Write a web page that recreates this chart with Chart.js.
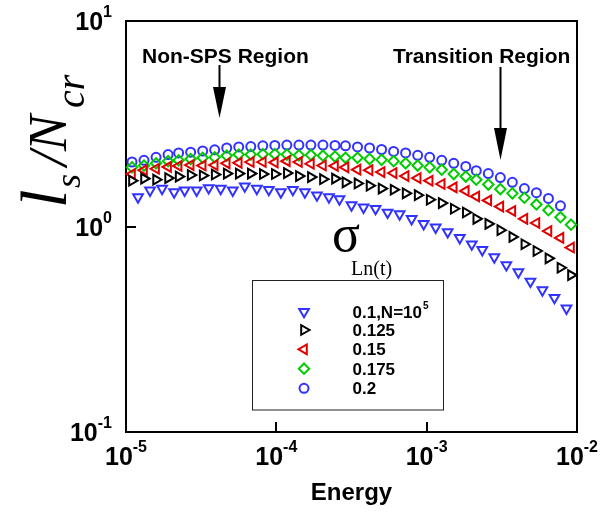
<!DOCTYPE html>
<html>
<head>
<meta charset="utf-8">
<script src="https://cdn.jsdelivr.net/npm/chart.js@4.4.1/dist/chart.umd.min.js"></script>
<style>
  html, body { margin: 0; padding: 0; background: #fff; }
  canvas { display: block; }
</style>
</head>
<body>
<canvas id="chart" width="614" height="513"></canvas>
<script>
// energy grid (circles, diamonds, left/right triangles)
const energy = [
  1.096e-5, 1.318e-5, 1.585e-5, 1.905e-5, 2.239e-5, 2.692e-5, 3.236e-5, 3.890e-5, 4.677e-5, 5.623e-5,
  6.761e-5, 8.128e-5, 9.772e-5, 1.175e-4, 1.413e-4, 1.698e-4, 2.042e-4, 2.455e-4, 2.884e-4, 3.467e-4,
  4.169e-4, 5.012e-4, 6.026e-4, 7.244e-4, 8.710e-4, 1.047e-3, 1.259e-3, 1.514e-3, 1.820e-3, 2.138e-3,
  2.570e-3, 3.090e-3, 3.715e-3, 4.467e-3, 5.370e-3, 6.457e-3, 7.762e-3, 9.120e-3
];
// energy grid of the 0.1 series (down triangles), half a step later
const energyShift = [
  1.202e-5, 1.445e-5, 1.738e-5, 2.089e-5, 2.455e-5, 2.951e-5, 3.548e-5, 4.266e-5, 5.129e-5, 6.166e-5,
  7.413e-5, 8.913e-5, 1.072e-4, 1.288e-4, 1.549e-4, 1.862e-4, 2.239e-4, 2.630e-4, 3.162e-4, 3.802e-4,
  4.571e-4, 5.495e-4, 6.607e-4, 7.943e-4, 9.550e-4, 1.148e-3, 1.380e-3, 1.660e-3, 1.995e-3, 2.344e-3,
  2.818e-3, 3.388e-3, 4.074e-3, 4.898e-3, 5.888e-3, 7.079e-3, 8.511e-3
];

const sigma0100 = [1.39, 1.50, 1.53, 1.47, 1.50, 1.50, 1.54, 1.53, 1.50, 1.57, 1.53, 1.51, 1.47, 1.51, 1.47, 1.42, 1.39, 1.36, 1.27, 1.24,
  1.22, 1.17, 1.15, 1.09, 1.03, 0.99, 0.94, 0.88, 0.82, 0.77, 0.71, 0.65, 0.60, 0.54, 0.49, 0.45, 0.40];
const sigma0125 = [1.67, 1.71, 1.69, 1.72, 1.75, 1.78, 1.77, 1.79, 1.81, 1.81, 1.81, 1.80, 1.80, 1.82, 1.76, 1.74, 1.70, 1.71, 1.64, 1.62,
  1.58, 1.53, 1.51, 1.45, 1.42, 1.35, 1.30, 1.22, 1.17, 1.09, 1.03, 0.96, 0.89, 0.82, 0.76, 0.70, 0.63, 0.58];
const sigma0150 = [1.80, 1.88, 1.91, 1.95, 1.97, 1.99, 1.98, 1.99, 2.03, 2.04, 2.06, 2.06, 2.05, 2.08, 2.06, 2.02, 1.98, 1.97, 1.94, 1.89,
  1.88, 1.84, 1.82, 1.76, 1.72, 1.67, 1.61, 1.55, 1.49, 1.40, 1.34, 1.25, 1.19, 1.09, 1.04, 0.95, 0.88, 0.79];
const sigma0175 = [1.94, 1.98, 2.03, 2.08, 2.10, 2.13, 2.16, 2.17, 2.21, 2.24, 2.24, 2.25, 2.25, 2.24, 2.22, 2.23, 2.21, 2.19, 2.16, 2.16,
  2.13, 2.11, 2.08, 2.03, 1.98, 1.94, 1.89, 1.80, 1.75, 1.69, 1.60, 1.52, 1.45, 1.38, 1.28, 1.20, 1.11, 1.02];
const sigma0200 = [2.06, 2.10, 2.17, 2.24, 2.28, 2.30, 2.33, 2.36, 2.41, 2.44, 2.45, 2.47, 2.48, 2.49, 2.49, 2.49, 2.49, 2.48, 2.47, 2.44,
  2.41, 2.37, 2.32, 2.28, 2.22, 2.17, 2.10, 2.03, 1.96, 1.87, 1.81, 1.73, 1.64, 1.53, 1.46, 1.37, 1.26];

const legendLabels = ['0.1,N=10', '0.125', '0.15', '0.175', '0.2'];
const xTicks = [1e-5, 1e-4, 1e-3, 1e-2];
const yTicks = [0.1, 1, 10];

const series = [
  { label: legendLabels[0], xs: energyShift, ys: sigma0100, color: '#3232ff', style: 'triangle', rot: 180, r: 5.6 },
  { label: legendLabels[1], xs: energy, ys: sigma0125, color: '#000000', style: 'triangle', rot: 90, r: 5.6 },
  { label: legendLabels[2], xs: energy, ys: sigma0150, color: '#e00000', style: 'triangle', rot: 270, r: 5.6 },
  { label: legendLabels[3], xs: energy, ys: sigma0175, color: '#00cc00', style: 'rectRot', rot: 0, r: 5.2 },
  { label: legendLabels[4], xs: energy, ys: sigma0200, color: '#3232ff', style: 'circle', rot: 0, r: 4.5 }
];

const SANS = '"Liberation Sans", Arial, sans-serif';
const SERIF = '"Liberation Serif", "Times New Roman", serif';
const MARK_W = 2;

function powLabel(ctx, exp, x, baseline, align) {
  ctx.font = 'bold 25px ' + SANS;
  const w10 = ctx.measureText('10').width;
  ctx.font = 'bold 16px ' + SANS;
  const we = ctx.measureText(exp).width;
  let left = align === 'center' ? x - (w10 + we) / 2 : x - w10 - we;
  ctx.textAlign = 'left';
  ctx.font = 'bold 25px ' + SANS;
  ctx.fillText('10', left, baseline);
  ctx.font = 'bold 16px ' + SANS;
  ctx.fillText(exp, left + w10, baseline - 13);
}

function arrow(ctx, x, y0, yHead, yTip) {
  ctx.beginPath();
  ctx.moveTo(x, y0);
  ctx.lineTo(x, yHead + 2);
  ctx.lineWidth = 2;
  ctx.stroke();
  ctx.beginPath();
  ctx.moveTo(x - 6.5, yHead);
  ctx.lineTo(x + 6.5, yHead);
  ctx.lineTo(x, yTip);
  ctx.closePath();
  ctx.fill();
}

const decorations = {
  id: 'decorations',
  beforeDatasetsDraw(chart) {
    const { ctx, chartArea: a, scales: { x, y } } = chart;
    ctx.save();
    ctx.strokeStyle = '#000';
    ctx.lineWidth = 2;
    ctx.strokeRect(a.left, a.top, a.right - a.left, a.bottom - a.top);
    ctx.beginPath();
    xTicks.forEach(v => {
      const px = Math.round(x.getPixelForValue(v));
      ctx.moveTo(px, a.bottom);
      ctx.lineTo(px, a.bottom - 10);
    });
    yTicks.forEach(v => {
      const py = Math.round(y.getPixelForValue(v));
      ctx.moveTo(a.left, py);
      ctx.lineTo(a.left + 10, py);
    });
    ctx.stroke();
    ctx.restore();
  },
  afterDraw(chart) {
    const { ctx, chartArea: a, scales: { x, y } } = chart;
    ctx.save();
    ctx.fillStyle = '#000';
    ctx.strokeStyle = '#000';
    ctx.textBaseline = 'alphabetic';

    // tick labels
    xTicks.forEach(v => {
      powLabel(ctx, String(Math.round(Math.log10(v))), x.getPixelForValue(v), a.bottom + 33, 'center');
    });
    yTicks.forEach(v => {
      powLabel(ctx, String(Math.round(Math.log10(v))), a.left - 14, y.getPixelForValue(v) + 9, 'right');
    });

    // axis titles
    ctx.font = 'bold 24px ' + SANS;
    ctx.textAlign = 'center';
    ctx.fillText('Energy', (a.left + a.right) / 2, 500);

    ctx.save();
    ctx.translate(66, 208);
    ctx.rotate(-Math.PI / 2);
    ctx.textAlign = 'left';
    ctx.font = 'italic 66px ' + SERIF;
    ctx.fillText('l', 0, 0);
    ctx.font = 'italic 36px ' + SERIF;
    ctx.fillText('s', 20, 14);
    ctx.font = 'italic 54px ' + SERIF;
    ctx.fillText('/N', 42, 0);
    ctx.font = 'italic 40px ' + SERIF;
    ctx.fillText('cr', 100, 18);
    ctx.restore();

    // region annotations
    ctx.textAlign = 'left';
    ctx.font = 'bold 21px ' + SANS;
    ctx.fillText('Non-SPS Region', 142, 63);
    ctx.fillText('Transition Region', 393, 63);
    arrow(ctx, 219.5, 65, 87, 118);
    arrow(ctx, 500.5, 67, 128, 160);

    // legend title
    ctx.font = '52px ' + SERIF;
    ctx.fillText('\u03c3', 332, 251);
    ctx.font = '20px ' + SERIF;
    ctx.fillText('Ln(t)', 351, 275);

    // legend box
    ctx.lineWidth = 1;
    ctx.strokeStyle = '#222';
    ctx.strokeRect(252.5, 280.5, 191, 129.5);
    const rows = [311.7, 330, 349.3, 368.7, 388.3];
    series.forEach((s, i) => {
      ctx.strokeStyle = s.color;
      ctx.fillStyle = 'rgba(0,0,0,0)';
      ctx.lineWidth = MARK_W;
      Chart.helpers.drawPoint(ctx, { pointStyle: s.style, rotation: s.rot, radius: s.r, borderWidth: MARK_W }, 304, rows[i]);
      ctx.fillStyle = '#000';
      ctx.font = 'bold 17px ' + SANS;
      ctx.fillText(s.label, 352.5, rows[i] + 6);
      if (i === 0) {
        const w = ctx.measureText(s.label).width;
        ctx.font = 'bold 10px ' + SANS;
        ctx.fillText('5', 352.5 + w + 1, rows[i] - 3);
      }
    });
    ctx.restore();
  }
};

new Chart(document.getElementById('chart'), {
  type: 'scatter',
  data: {
    datasets: series.map(s => ({
      label: s.label,
      data: s.xs.map((e, i) => ({ x: e, y: s.ys[i] })),
      showLine: false,
      pointStyle: s.style,
      pointRotation: s.rot,
      pointRadius: s.r,
      pointHoverRadius: s.r,
      pointBorderWidth: MARK_W,
      borderColor: s.color,
      pointBorderColor: s.color,
      backgroundColor: 'rgba(0,0,0,0)',
      pointBackgroundColor: 'rgba(0,0,0,0)',
      clip: false
    }))
  },
  options: {
    responsive: false,
    animation: false,
    events: [],
    layout: { padding: { left: 126, right: 37, top: 21, bottom: 81 } },
    plugins: { legend: { display: false }, tooltip: { enabled: false } },
    scales: {
      x: { type: 'logarithmic', min: 1e-5, max: 1e-2, display: false },
      y: { type: 'logarithmic', min: 0.1, max: 10, display: false }
    }
  },
  plugins: [decorations]
});
</script>
</body>
</html>
